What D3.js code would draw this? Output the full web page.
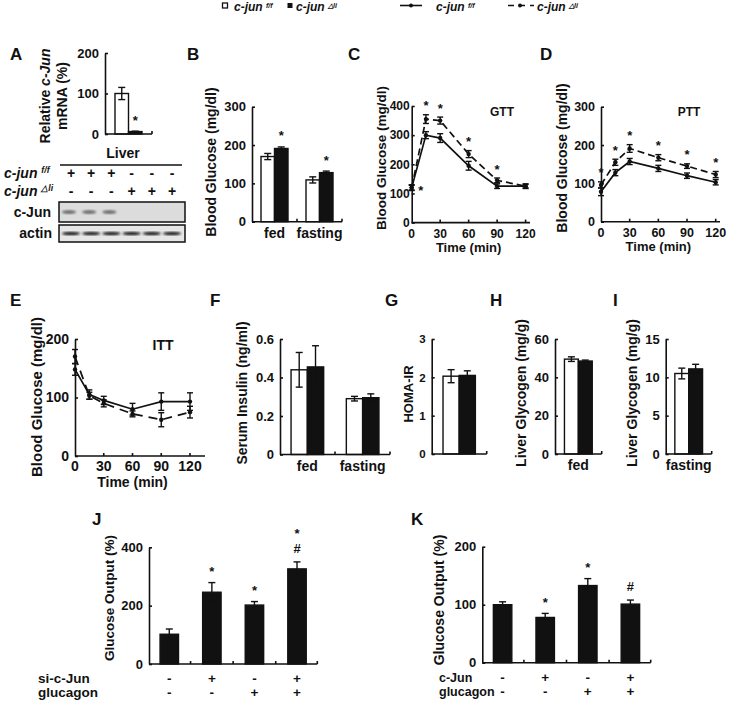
<!DOCTYPE html>
<html>
<head>
<meta charset="utf-8">
<script src="https://cdn.jsdelivr.net/npm/d3@7"></script>
<style>
body { margin: 0; background: #fff; }
svg text { font-family: "Liberation Sans", Arial, sans-serif; font-weight: bold; fill: #111; }
</style>
</head>
<body>
<svg id="fig" width="731" height="706"></svg>
<script>
// ---------- data ----------
var genotypes = ["c-jun", "c-jun"];
var genoSup = ["f/f", "\u25B3li"];

// A: relative c-Jun mRNA, liver
var mrnaFF = [100], mrnaFFErr = [15];
var mrnaLi = [6], mrnaLiErr = [1];
var laneFF = ["+", "+", "+", "-", "-", "-"];
var laneLi = ["-", "-", "-", "+", "+", "+"];

// B: blood glucose
var feedCats = ["fed", "fasting"];
var glucFF = [170, 109], glucFFErr = [8, 8];
var glucLi = [191, 128], glucLiErr = [4, 4];
var glucSig = ["*", "*"];

// C/D/E: tolerance tests
var times = [0, 15, 30, 60, 90, 120];
var timeTicks = [0, 30, 60, 90, 120];
var gttFF = [120, 300, 290, 195, 125, 125], gttFFErr = [8, 12, 15, 15, 8, 8];
var gttLi = [120, 355, 350, 235, 145, 125], gttLiErr = [10, 15, 12, 12, 8, 6];
var gttSig = ["*", "*", "*", "*", "*", ""];
var pttFF = [78, 128, 157, 139, 120, 103], pttFFErr = [10, 8, 8, 8, 7, 7];
var pttLi = [96, 155, 191, 167, 145, 123], pttLiErr = [8, 8, 10, 8, 6, 8];
var pttSig = ["*", "*", "*", "*", "*", "*"];
var ittFF = [148, 105, 95, 80, 93, 93], ittFFErr = [10, 8, 7, 10, 15, 15];
var ittLi = [170, 103, 90, 72, 62, 75], ittLiErr = [12, 6, 6, 5, 12, 10];

// F: serum insulin
var insFF = [0.44, 0.29], insFFErr = [0.09, 0.012];
var insLi = [0.455, 0.295], insLiErr = [0.11, 0.02];
// G: HOMA-IR
var homaFF = [2.03], homaFFErr = [0.17];
var homaLi = [2.05], homaLiErr = [0.12];
// H, I: liver glycogen
var glyFedFF = [49.5], glyFedFFErr = [1.2];
var glyFedLi = [48.5], glyFedLiErr = [0.5];
var glyFastFF = [10.5], glyFastFFErr = [0.7];
var glyFastLi = [11.1], glyFastLiErr = [0.6];

// J, K: glucose output
var jCats = ["1", "2", "3", "4"];
var jVals = [102, 246, 202, 326], jErr = [18, 33, 12, 24];
var jSig = [[], ["*"], ["*"], ["*", "#"]];
var jSiRNA = ["-", "+", "-", "+"];
var jGlucagon = ["-", "-", "+", "+"];
var kVals = [100, 78, 133, 101], kErr = [5, 7, 12, 7];
var kSig = [[], ["*"], ["*"], ["#"]];
var kCJun = ["-", "+", "-", "+"];
var kGlucagon = ["-", "-", "+", "+"];

// ---------- drawing ----------
var svg = d3.select("#fig");
var INK = "#111";

function letter(t, x, y) {
  svg.append("text").attr("x", x).attr("y", y).attr("font-size", 17).text(t);
}

function yTitle(lines, cx, cy, fs) {
  lines.forEach(function(l, i) {
    var t = svg.append("text")
      .attr("transform", "translate(" + (cx + i * 17) + "," + cy + ") rotate(-90)")
      .attr("text-anchor", "middle").attr("dy", "0.35em").attr("font-size", fs);
    l.forEach(function(part) {
      t.append("tspan").attr("font-style", part[1] ? "italic" : null).text(part[0]);
    });
  });
}

function yAxis(x0, y, ticks, fs, fmt, pad) {
  var ax = d3.axisLeft(y).tickValues(ticks).tickSize(-3).tickSizeOuter(0)
    .tickPadding(pad == null ? 6 : pad)
    .tickFormat(fmt || d3.format("d"));
  var g = svg.append("g").attr("transform", "translate(" + x0 + ",0)").call(ax);
  g.attr("font-family", null).attr("font-size", fs);
  g.select(".domain").attr("stroke", INK).attr("stroke-width", 1.6);
  g.selectAll(".tick line").attr("stroke", INK).attr("stroke-width", 1.6);
  g.selectAll(".tick text").attr("fill", INK);
}

function star(txt, x, cy, fs) {
  var off = txt == "*" ? 0.58 : 0.36;
  svg.append("text").attr("x", x).attr("y", cy + off * fs)
    .attr("text-anchor", "middle").attr("font-size", fs).text(txt);
}

function barPanel(p) {
  var y = d3.scaleLinear().domain([0, p.max]).range([p.y0, p.yTop]);
  var x = d3.scaleBand().domain(p.cats).range([p.x0, p.x1])
    .paddingInner(p.pi).paddingOuter(p.po);
  var sub = d3.scaleBand().domain(d3.range(p.series.length)).range([0, x.bandwidth()]);
  var g = svg.append("g");
  p.series.forEach(function(s, si) {
    g.selectAll(null).data(p.cats).enter().append("rect")
      .attr("x", function(c) { return x(c) + sub(si); })
      .attr("width", sub.bandwidth())
      .attr("y", function(c, i) { return y(s.vals[i]); })
      .attr("height", function(c, i) { return p.y0 - y(s.vals[i]); })
      .attr("fill", s.fill).attr("stroke", INK).attr("stroke-width", 1.4);
  });
  p.series.forEach(function(s, si) {
    p.cats.forEach(function(c, i) {
      var cx = x(c) + sub(si) + sub.bandwidth() / 2;
      var hi = y(s.vals[i] + s.err[i]), lo = y(s.vals[i] - s.err[i]);
      g.append("line").attr("x1", cx).attr("x2", cx).attr("y1", hi).attr("y2", lo)
        .attr("stroke", INK).attr("stroke-width", 1.4);
      [hi, lo].forEach(function(yy) {
        g.append("line").attr("x1", cx - 3.5).attr("x2", cx + 3.5).attr("y1", yy).attr("y2", yy)
          .attr("stroke", INK).attr("stroke-width", 1.4);
      });
      if (s.sig && s.sig[i] && s.sig[i].length) {
        var marks = [].concat(s.sig[i]);
        var base = hi - 14;
        for (var k = marks.length - 1, j = 0; k >= 0; k--, j++) {
          star(marks[k], cx, base - j * 17, p.starFs || 13);
        }
      }
    });
  });
  // x baseline with ticks at category boundaries
  g.append("line").attr("x1", p.x0).attr("x2", p.x1).attr("y1", p.y0).attr("y2", p.y0)
    .attr("stroke", INK).attr("stroke-width", 1.6);
  p.cats.forEach(function(c, i) {
    if (i == 0) return;
    var bx = x(c) - x.step() * p.pi / 2;
    g.append("line").attr("x1", bx).attr("x2", bx).attr("y1", p.y0).attr("y2", p.y0 - 3)
      .attr("stroke", INK).attr("stroke-width", 1.6);
  });
  g.append("line").attr("x1", p.x1).attr("x2", p.x1).attr("y1", p.y0).attr("y2", p.y0 - 3)
    .attr("stroke", INK).attr("stroke-width", 1.6);
  if (p.catLabels) {
    p.cats.forEach(function(c, i) {
      svg.append("text").attr("x", x(c) + x.bandwidth() / 2).attr("y", p.y0 + 16)
        .attr("text-anchor", "middle").attr("font-size", p.labFs || 14).text(p.catLabels[i]);
    });
  }
  if (p.rows) {
    p.rows.forEach(function(r, ri) {
      var by = p.y0 + 19 + ri * 14;
      svg.append("text").attr("x", p.rowX).attr("y", by).attr("font-size", p.rowFs || 13.5).text(r.label);
      r.signs.forEach(function(sg, i) {
        svg.append("text").attr("x", x(p.cats[i]) + x.bandwidth() / 2).attr("y", by)
          .attr("text-anchor", "middle").attr("font-size", 13.5).text(sg);
      });
    });
  }
  yAxis(p.x0, y, p.ticks, p.tickFs || 13, p.fmt, p.pad);
  return x;
}

function linePanel(p) {
  var x = d3.scaleLinear().domain([0, 120]).range([p.x0, p.x120]);
  var y = d3.scaleLinear().domain([0, p.max]).range([p.y0, p.yTop]);
  var g = svg.append("g");
  var line = d3.line().x(function(d, i) { return x(times[i]); }).y(function(d) { return y(d); });
  p.series.forEach(function(s) {
    g.append("path").attr("d", line(s.vals)).attr("fill", "none").attr("stroke", INK)
      .attr("stroke-width", 1.7).attr("stroke-dasharray", s.dash);
    s.vals.forEach(function(v, i) {
      var cx = x(times[i]), hi = y(v + s.err[i]), lo = y(v - s.err[i]);
      g.append("line").attr("x1", cx).attr("x2", cx).attr("y1", hi).attr("y2", lo)
        .attr("stroke", INK).attr("stroke-width", 1.4);
      [hi, lo].forEach(function(yy) {
        g.append("line").attr("x1", cx - 3).attr("x2", cx + 3).attr("y1", yy).attr("y2", yy)
          .attr("stroke", INK).attr("stroke-width", 1.4);
      });
      g.append("circle").attr("cx", cx).attr("cy", y(v)).attr("r", 2.2).attr("fill", INK);
    });
  });
  if (p.sig) {
    var top = p.series[1];
    p.sig.forEach(function(sg, i) {
      if (!sg) return;
      if (i == 0 && p.firstRight) {
        star(sg, x(times[i]) + 9, y(top.vals[i]), p.starFs || 13);
      } else {
        star(sg, x(times[i]), y(top.vals[i] + top.err[i]) - 12, p.starFs || 13);
      }
    });
  }
  g.append("line").attr("x1", p.x0).attr("x2", p.xEnd).attr("y1", p.y0).attr("y2", p.y0)
    .attr("stroke", INK).attr("stroke-width", 1.6);
  timeTicks.forEach(function(t) {
    if (t > 0) {
      g.append("line").attr("x1", x(t)).attr("x2", x(t)).attr("y1", p.y0).attr("y2", p.y0 - 3)
        .attr("stroke", INK).attr("stroke-width", 1.6);
    }
    svg.append("text").attr("x", x(t)).attr("y", p.y0 + p.tickDy).attr("text-anchor", "middle")
      .attr("font-size", p.tickFs).text(t);
  });
  svg.append("text").attr("x", (x(0) + x(120)) / 2).attr("y", p.y0 + p.titleDy)
    .attr("text-anchor", "middle").attr("font-size", p.titleFs).text("Time (min)");
  svg.append("text").attr("x", p.tagX).attr("y", p.tagY).attr("text-anchor", "middle")
    .attr("font-size", p.tagFs).text(p.tag);
  yAxis(p.x0, y, p.ticks, p.tickFs, null, p.pad);
}

// ---------- top legend ----------
function genoText(x, y, i, fs, supFs, supDy) {
  var t = svg.append("text").attr("x", x).attr("y", y).attr("font-size", fs).attr("font-style", "italic");
  t.append("tspan").text(genotypes[i] + " ");
  t.append("tspan").attr("font-size", supFs || fs * 0.62).attr("dy", supDy || -fs * 0.38).text(genoSup[i]);
  return t;
}
svg.append("rect").attr("x", 222.5).attr("y", 3).attr("width", 5).attr("height", 5)
  .attr("fill", "#fff").attr("stroke", INK).attr("stroke-width", 1.3);
genoText(234, 11, 0, 12, 7, -3.5);
svg.append("rect").attr("x", 287.5).attr("y", 3).attr("width", 5).attr("height", 5).attr("fill", INK);
genoText(296, 11, 1, 12, 7, -3.5);
svg.append("line").attr("x1", 400).attr("x2", 422).attr("y1", 5.5).attr("y2", 5.5)
  .attr("stroke", INK).attr("stroke-width", 1.6);
svg.append("circle").attr("cx", 411).attr("cy", 5.5).attr("r", 2).attr("fill", INK);
genoText(436, 11, 0, 12, 7, -3.5);
svg.append("line").attr("x1", 508).attr("x2", 534).attr("y1", 5.5).attr("y2", 5.5)
  .attr("stroke", INK).attr("stroke-width", 1.6).attr("stroke-dasharray", "6,5");
svg.append("circle").attr("cx", 520).attr("cy", 5.5).attr("r", 2).attr("fill", INK);
genoText(537, 11, 1, 12, 7, -3.5);

// ---------- A ----------
letter("A", 10, 60);
yTitle([[["Relative ", 0], ["c-Jun", 1]], [["mRNA (%)", 0]]], 45, 96, 14);
barPanel({ x0: 105, x1: 152, y0: 134, yTop: 53, max: 200, ticks: [0, 100, 200],
  cats: ["Liver"], pi: 0, po: 0.37,
  series: [{ vals: mrnaFF, err: mrnaFFErr, fill: "#fff" },
           { vals: mrnaLi, err: mrnaLiErr, fill: INK, sig: ["*"] }] });
svg.append("text").attr("x", 123).attr("y", 158).attr("text-anchor", "middle")
  .attr("font-size", 14).text("Liver");
svg.append("line").attr("x1", 60).attr("x2", 182).attr("y1", 165).attr("y2", 165)
  .attr("stroke", INK).attr("stroke-width", 1.6);
var lane = d3.scalePoint().domain(d3.range(6)).range([71, 172]);
genoText(4, 178, 0, 14);
genoText(4, 196, 1, 14);
[laneFF, laneLi].forEach(function(row, ri) {
  row.forEach(function(sg, i) {
    svg.append("text").attr("x", lane(i)).attr("y", 178 + ri * 18).attr("text-anchor", "middle")
      .attr("font-size", 14).text(sg);
  });
});
var defs = svg.append("defs");
defs.append("filter").attr("id", "blur").append("feGaussianBlur").attr("stdDeviation", 0.9);
svg.append("rect").attr("x", 59).attr("y", 202).attr("width", 126).attr("height", 20)
  .attr("fill", "#dcdcdc").attr("stroke", INK).attr("stroke-width", 1.5);
svg.append("rect").attr("x", 59).attr("y", 225).attr("width", 126).attr("height", 17)
  .attr("fill", "#e6e6e6").attr("stroke", INK).attr("stroke-width", 1.5);
laneFF.forEach(function(sg, i) {
  if (sg == "+") {
    svg.append("ellipse").attr("cx", lane(i) - 2).attr("cy", 212).attr("rx", 7).attr("ry", 1.8)
      .attr("fill", "#666").attr("filter", "url(#blur)");
  }
  svg.append("ellipse").attr("cx", lane(i)).attr("cy", 233.5).attr("rx", 9).attr("ry", 1.8)
    .attr("fill", "#222").attr("filter", "url(#blur)");
});
svg.append("text").attr("x", 51).attr("y", 217).attr("text-anchor", "end").attr("font-size", 14).text("c-Jun");
svg.append("text").attr("x", 52).attr("y", 238).attr("text-anchor", "end").attr("font-size", 14).text("actin");

// ---------- B ----------
letter("B", 187, 60);
yTitle([[["Blood Glucose (mg/dl)", 0]]], 211, 162, 14);
barPanel({ x0: 252, x1: 342, y0: 221.7, yTop: 106.7, max: 300, ticks: [0, 100, 200, 300],
  cats: feedCats, pi: 0.4, po: 0.2, catLabels: feedCats,
  series: [{ vals: glucFF, err: glucFFErr, fill: "#fff" },
           { vals: glucLi, err: glucLiErr, fill: INK, sig: glucSig }] });

// ---------- C ----------
letter("C", 348, 60);
yTitle([[["Blood Glucose (mg/dl)", 0]]], 381.5, 158, 13.5);
linePanel({ x0: 411.7, x120: 525.6, xEnd: 530, y0: 222.6, yTop: 106, max: 400,
  ticks: [0, 100, 200, 300, 400], tickFs: 12, pad: 2, tickDy: 15, titleDy: 29.5, titleFs: 13,
  tag: "GTT", tagX: 502, tagY: 116, tagFs: 12,
  series: [{ vals: gttFF, err: gttFFErr, dash: null },
           { vals: gttLi, err: gttLiErr, dash: "7,4" }],
  sig: gttSig, firstRight: true });

// ---------- D ----------
letter("D", 540, 60);
yTitle([[["Blood Glucose (mg/dl)", 0]]], 562, 158, 14);
linePanel({ x0: 601, x120: 715.7, xEnd: 720, y0: 221.7, yTop: 106.7, max: 300,
  ticks: [0, 100, 200, 300], tickFs: 12.5, pad: 6, tickDy: 15, titleDy: 29.5, titleFs: 13,
  tag: "PTT", tagX: 689, tagY: 116, tagFs: 12,
  series: [{ vals: pttFF, err: pttFFErr, dash: null },
           { vals: pttLi, err: pttLiErr, dash: "7,4" }],
  sig: pttSig });

// ---------- E ----------
letter("E", 10, 306);
yTitle([[["Blood Glucose (mg/dl)", 0]]], 37, 397, 15);
linePanel({ x0: 75, x120: 190, xEnd: 205, y0: 456, yTop: 339, max: 200,
  ticks: [0, 100, 200], tickFs: 14, pad: 6, tickDy: 15, titleDy: 31, titleFs: 14,
  tag: "ITT", tagX: 163, tagY: 350, tagFs: 14,
  series: [{ vals: ittFF, err: ittFFErr, dash: null },
           { vals: ittLi, err: ittLiErr, dash: "9,6" }] });

// ---------- F ----------
letter("F", 210, 306);
yTitle([[["Serum Insulin (ng/ml)", 0]]], 242, 393, 14);
barPanel({ x0: 280, x1: 390, y0: 454.5, yTop: 339, max: 0.6, ticks: [0, 0.2, 0.4, 0.6],
  fmt: function(d) { return d == 0 ? "0" : d3.format(".1f")(d); },
  cats: feedCats, pi: 0.41, po: 0.2, catLabels: feedCats,
  series: [{ vals: insFF, err: insFFErr, fill: "#fff" },
           { vals: insLi, err: insLiErr, fill: INK }] });

// ---------- G ----------
letter("G", 385, 306);
yTitle([[["HOMA-IR", 0]]], 408, 394, 13);
barPanel({ x0: 431.7, x1: 486.7, y0: 454, yTop: 339, max: 3, ticks: [0, 1, 2, 3], tickFs: 11.5,
  cats: ["HOMA"], pi: 0, po: 0.35,
  series: [{ vals: homaFF, err: homaFFErr, fill: "#fff" },
           { vals: homaLi, err: homaLiErr, fill: INK }] });

// ---------- H ----------
letter("H", 490, 306);
yTitle([[["Liver Glycogen (mg/g)", 0]]], 521, 393, 14);
barPanel({ x0: 555, x1: 601.7, y0: 454, yTop: 339, max: 60, ticks: [0, 20, 40, 60],
  cats: ["fed"], pi: 0, po: 0.34, catLabels: ["fed"],
  series: [{ vals: glyFedFF, err: glyFedFFErr, fill: "#fff" },
           { vals: glyFedLi, err: glyFedLiErr, fill: INK }] });

// ---------- I ----------
letter("I", 613, 306);
yTitle([[["Liver Glycogen (mg/g)", 0]]], 632, 393, 14);
barPanel({ x0: 665.7, x1: 711.7, y0: 454, yTop: 339, max: 15, ticks: [0, 5, 10, 15],
  cats: ["fasting"], pi: 0, po: 0.33, catLabels: ["fasting"],
  series: [{ vals: glyFastFF, err: glyFastFFErr, fill: "#fff" },
           { vals: glyFastLi, err: glyFastLiErr, fill: INK }] });

// ---------- J ----------
letter("J", 92, 525);
yTitle([[["Glucose Output (%)", 0]]], 109, 598, 13.5);
barPanel({ x0: 149, x1: 317.3, y0: 664, yTop: 547.3, max: 400, ticks: [0, 200, 400],
  cats: jCats, pi: 0.567, po: 0.26, rowX: 38, rowFs: 13.5,
  rows: [{ label: "si-c-Jun", signs: jSiRNA }, { label: "glucagon", signs: jGlucagon }],
  series: [{ vals: jVals, err: jErr, fill: INK, sig: jSig }] });

// ---------- K ----------
letter("K", 411, 525);
yTitle([[["Glucose Output (%)", 0]]], 439, 600, 14);
barPanel({ x0: 482.3, x1: 650.7, y0: 662.7, yTop: 546.7, max: 200, ticks: [0, 100, 200],
  cats: jCats, pi: 0.567, po: 0.26, rowX: 439, rowFs: 12.5,
  rows: [{ label: "c-Jun", signs: kCJun }, { label: "glucagon", signs: kGlucagon }],
  series: [{ vals: kVals, err: kErr, fill: INK, sig: kSig }] });
</script>
</body>
</html>
